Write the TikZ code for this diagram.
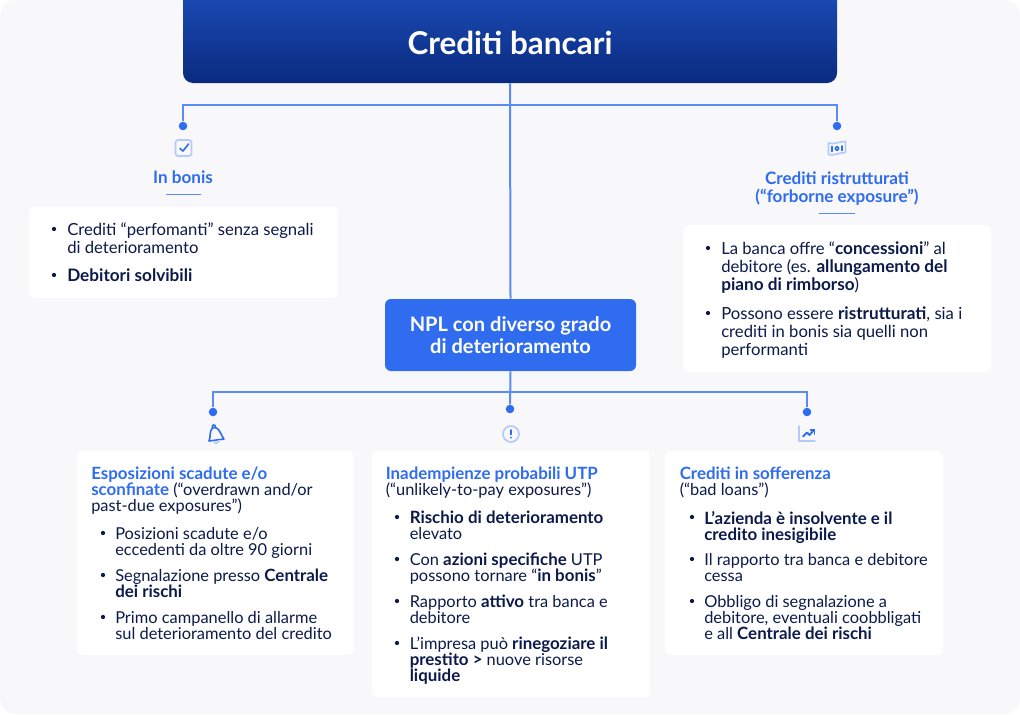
\documentclass[tikz,border=0pt]{standalone}
\usepackage{fontspec}
\setmainfont{Lato}[BoldFeatures={Scale=1.03}]
\usetikzlibrary{calc}
\definecolor{bgc}{HTML}{F8F8FB}
\definecolor{ink}{HTML}{0B1A4A}
\definecolor{blu}{HTML}{2F6CF0}
\definecolor{lin}{HTML}{5B8CF5}
\definecolor{pale}{HTML}{B5CAFA}
\definecolor{topa}{HTML}{1D50BC}
\definecolor{topb}{HTML}{0A2A7F}
\tikzset{
 x=0.75pt,y=-0.75pt,
 card/.style={fill=white,draw=none,rounded corners=4.5pt},
 conn/.style={draw=lin,line width=1.5pt},
 dotn/.style={circle,fill=blu,draw=none,inner sep=0,minimum size=6.4pt},
 bul/.style={circle,fill=ink,draw=none,inner sep=0,minimum size=3.2pt},
 para/.style={anchor=north west,inner sep=0,align=left,text=ink,font=\fontsize{12.3}{12}\selectfont,yshift=8.4pt},
 parb/.style={anchor=north west,inner sep=0,align=left,text=ink,font=\fontsize{12.5}{13.5}\selectfont,yshift=9.45pt},
 head/.style={inner sep=0,align=center,text=blu,font=\fontsize{12.45}{13.5}\selectfont\bfseries},
 rulen/.style={draw=lin,line width=.6pt},
 ipale/.style={draw=pale,line width=1.3pt,line join=round,line cap=round},
 idark/.style={draw=blu,line width=1.2pt,line join=round,line cap=round},
}
\newcommand\hb[1]{\textcolor{blu}{\bfseries #1}}
\begin{document}
\begin{tikzpicture}
\useasboundingbox (0,0) rectangle (1020,714);
\fill[white] (0,0) rectangle (1020,714);
\fill[bgc,rounded corners=12pt] (0,0) rectangle (1020,714);
% main boxes
\begin{scope}
\clip (0,0) rectangle (1020,714);
\shade[top color=topa,bottom color=topb,rounded corners=7.5pt] (183,-20) rectangle (837,83);
\end{scope}
\node[inner sep=0,minimum width=490.5pt,minimum height=62.25pt] (top) at (510,41.5) {};
\node[text=white,font=\fontsize{22.9}{26}\selectfont\bfseries,inner sep=0] (toptext) at (510,43) {Crediti bancari};
\node[fill=blu,rounded corners=4.5pt,minimum width=188.25pt,minimum height=54pt,inner sep=0] (npl) at (510.5,335) {};
\node[text=white,font=\fontsize{14.6}{16.5}\selectfont\bfseries,align=center,inner sep=0] (npltext) at (510.5,335) {NPL con diverso grado\\di deterioramento};
% connector ends
\node[dotn] (d1) at (183,126) {};
\node[dotn] (d2) at (837,126) {};
\node[dotn] (d3) at (213,412) {};
\node[dotn] (d4) at (510,409) {};
\node[dotn] (d5) at (807,412) {};
\coordinate (j1) at (510,105);
\coordinate (j2) at (510,392);
\draw[conn] (top.south) -- (npl.north);
\draw[conn] (d1) |- (j1) -| (d2);
\draw[conn] (npl.south) -- (d4);
\draw[conn] (d3) |- (j2) -| (d5);
% cards
\fill[card] (29,207) rectangle (338,298);
\fill[card] (683,225) rectangle (991,372);
\fill[card] (77,451) rectangle (354,655);
\fill[card] (372,451) rectangle (650,697);
\fill[card] (665,451) rectangle (943,655);
% heads
\node[head] (h1) at (183,177) {In bonis};
\draw[rulen] (166,194) -- (201,194);
\node[head] (h2) at (837,189) {Crediti ristrutturati\\(“forborne exposure”)};
\draw[rulen] (819,213) -- (855,213);
% card 1
\node[bul] (b11) at (54,229) {};
\node[parb] (p11) at (67,235) {Crediti “perfomanti” senza segnali\\di deterioramento};
\node[bul] (b12) at (54,275) {};
\node[parb] (p12) at (67,281) {\textbf{Debitori solvibili}};
% card 2
\node[bul] (b21) at (708,248) {};
\node[parb] (p21) at (721,254) {La banca offre “\textbf{concessioni}” al\\debitore (es. \textbf{allungamento del}\\\textbf{piano di rimborso})};
\node[bul] (b22) at (708,313) {};
\node[parb] (p22) at (721,319) {Possono essere \textbf{ristrutturati}, sia i\\crediti in bonis sia quelli non\\performanti};
% card 3
\node[para] (t3) at (91,478) {\hb{Esposizioni scadute e/o}\\\hb{sconfinate} (“overdrawn and/or\\past-due exposures”)};
\node[bul] (b31) at (103,533) {};
\node[para] (p31) at (115,538) {Posizioni scadute e/o\\eccedenti da oltre 90 giorni};
\node[bul] (b32) at (103,575) {};
\node[para] (p32) at (115,580) {Segnalazione presso \textbf{Centrale}\\\textbf{dei rischi}};
\node[bul] (b33) at (103,617) {};
\node[para] (p33) at (115,622) {Primo campanello di allarme\\sul deterioramento del credito};
% card 4
\node[para] (t4) at (385.5,478) {\hb{Inadempienze probabili UTP}\\(“unlikely-to-pay exposures”)};
\node[bul] (b41) at (397,517) {};
\node[para] (p41) at (409.5,522) {\textbf{Rischio di deterioramento}\\elevato};
\node[bul] (b42) at (397,559) {};
\node[para] (p42) at (409.5,564) {Con \textbf{azioni specifiche} UTP\\possono tornare “\textbf{in bonis}”};
\node[bul] (b43) at (397,601) {};
\node[para] (p43) at (409.5,606) {Rapporto \textbf{attivo} tra banca e\\debitore};
\node[bul] (b44) at (397,643) {};
\node[para] (p44) at (409.5,648) {L’impresa può \textbf{rinegoziare il}\\\textbf{prestito > }nuove risorse\\\textbf{liquide}};
% card 5
\node[para] (t5) at (679.5,478) {\hb{Crediti in sofferenza}\\(“bad loans”)};
\node[bul] (b51) at (692,517) {};
\node[para] (p51) at (704,522) {\textbf{L’azienda è insolvente e il}\\\textbf{credito inesigibile}};
\node[bul] (b52) at (692,559) {};
\node[para] (p52) at (704,564) {Il rapporto tra banca e debitore\\cessa};
\node[bul] (b53) at (692,601) {};
\node[para] (p53) at (704,606) {Obbligo di segnalazione a\\debitore, eventuali coobbligati\\e all \textbf{Centrale dei rischi}};
% icon: check
\draw[ipale,rounded corners=2pt] (175.5,140) rectangle (191.5,156);
\draw[idark] (180,148.5) -- (183,151) -- (188.5,144);
% icon: banknote
\draw[ipale] (828.5,143) .. controls (834,145) and (840,141) .. (845.5,141.5) -- (845.5,152.5) .. controls (840,152.5) and (834,156) .. (828.5,154.5) -- cycle;
\draw[idark] (832,146.5) -- (832,151.5);
\draw[idark] (842,146) -- (842,150.5);
\draw[idark] (837,148.5) circle (1.9);
% icon: bell
\draw[idark] (209,441) .. controls (211,437) and (209,431) .. (212.5,428) .. controls (216,426) and (219,430) .. (220,432) .. controls (221,435) and (223,437) .. (224,439) -- cycle;
\draw[idark] (212.5,428) .. controls (211,424) and (216,424) .. (215.5,427.5);
\draw[ipale] (214,441.5) .. controls (215,444) and (218,443.5) .. (219,440.5);
% icon: alert
\draw[ipale] (511,434) circle (8);
\draw[idark,line width=1.4pt] (511,430) -- (511,434.5);
\fill[blu] (511,437.6) circle (1);
% icon: chart
\draw[ipale] (799,426) -- (799,441) -- (815,441);
\draw[idark,line width=1.4pt] (803,436.5) -- (807,432.5) -- (809.5,435) -- (814,430);
\draw[idark,line width=1.4pt] (810.5,430) -- (814.5,430) -- (814.5,434);
\end{tikzpicture}
\end{document}
